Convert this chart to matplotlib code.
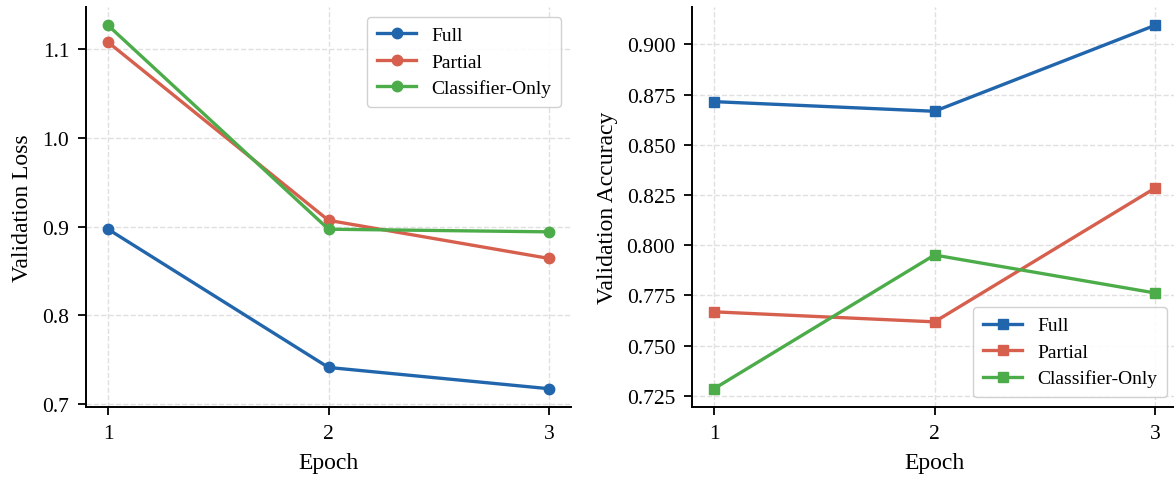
import matplotlib
matplotlib.use("Agg")
import matplotlib.pyplot as plt

plt.rcParams["font.family"] = ["Liberation Serif", "DejaVu Serif"]

epochs = [1, 2, 3]
methods = ["Full", "Partial", "Classifier-Only"]
colours = ["#2166ac", "#d6604d", "#4dac4a"]

# validation loss per epoch
loss_full = [0.897, 0.741, 0.717]
loss_partial = [1.108, 0.907, 0.864]
loss_classifier = [1.127, 0.897, 0.894]

# validation accuracy per epoch
acc_full = [0.8715, 0.8667, 0.9095]
acc_partial = [0.7668, 0.7618, 0.8284]
acc_classifier = [0.7285, 0.7951, 0.7762]

fig = plt.figure(figsize=(11.74, 4.81), dpi=100)
ax1 = fig.add_axes([86 / 1174, 0.152, 485 / 1174, 0.831])
ax2 = fig.add_axes([692 / 1174, 0.152, 485 / 1174, 0.831])

for vals, name, c in zip([loss_full, loss_partial, loss_classifier], methods, colours):
    ax1.plot(epochs, vals, marker="o", color=c, label=name, linewidth=2.4, markersize=7.5)

for vals, name, c in zip([acc_full, acc_partial, acc_classifier], methods, colours):
    ax2.plot(epochs, vals, marker="s", color=c, label=name, linewidth=2.4, markersize=7.5)

ax1.set_ylabel("Validation Loss", fontsize=17, labelpad=7)
ax2.set_ylabel("Validation Accuracy", fontsize=17, labelpad=6)

for ax in (ax1, ax2):
    ax.set_xlabel("Epoch", fontsize=17, labelpad=7)
    ax.set_xticks(epochs)
    ax.tick_params(labelsize=15.5, width=1.3, length=6, pad=6)
    ax.grid(True, linestyle="--", color="#e0e0e0", linewidth=1.0)
    ax.spines[["top", "right"]].set_visible(False)
    for s in ("left", "bottom"):
        ax.spines[s].set_linewidth(1.4)

ax1.set_yticks([0.7, 0.8, 0.9, 1.0, 1.1])
ax2.set_yticks([0.725, 0.75, 0.775, 0.8, 0.825, 0.85, 0.875, 0.9])
ax2.yaxis.set_major_formatter(plt.FormatStrFormatter("%.3f"))

ax1.legend(loc="upper right", fontsize=14, framealpha=0.9, edgecolor="#cccccc",
           borderpad=0.5, handlelength=2, labelspacing=0.45)
ax2.legend(loc="lower right", fontsize=14, framealpha=0.9, edgecolor="#cccccc",
           borderpad=0.5, handlelength=2, labelspacing=0.45)

fig.savefig("out.png", dpi=100)
